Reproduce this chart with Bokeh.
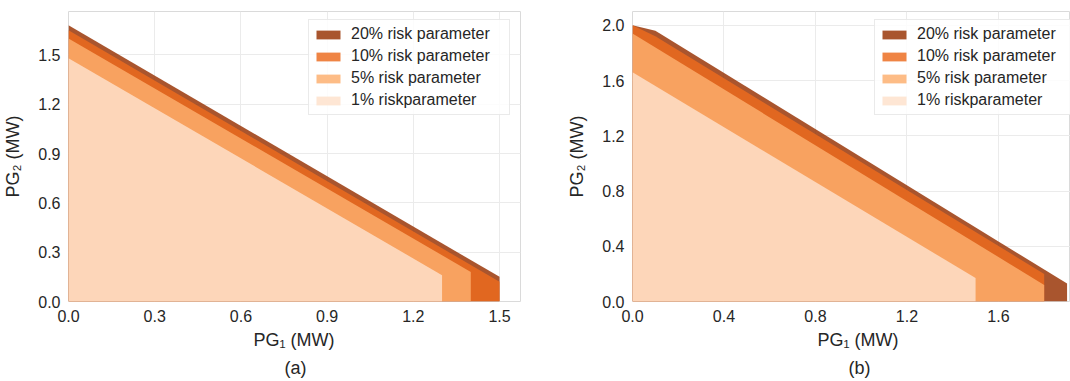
from bokeh.plotting import figure
from bokeh.layouts import row
from bokeh.models import FixedTicker, PrintfTickFormatter, Legend, LegendItem, Title
from bokeh.embed import file_html
from bokeh.resources import INLINE

# ---------------- data ----------------
labels = ["20% risk parameter", "10% risk parameter", "5% risk parameter", "1% riskparameter"]
# base colours, drawn with partial opacity so overlapping regions darken
base_colors = ["#973304", "#ec6b1e", "#fdae6e", "#fee1cb"]
fill_alpha = 0.83

# panel (a): upper boundary of each feasible region (PG1, PG2)
a_x20 = [0.0, 1.5]
a_y20 = [1.68, 0.15]
a_x10 = [0.0, 1.5]
a_y10 = [1.65, 0.12]
a_x5 = [0.0, 1.4]
a_y5 = [1.60, 0.18]
a_x1 = [0.0, 1.3]
a_y1 = [1.48, 0.16]

# panel (b)
b_x20 = [0.0, 0.1, 1.9]
b_y20 = [2.0, 1.96, 0.13]
b_x10 = [0.0, 0.1, 1.8]
b_y10 = [2.0, 1.92, 0.20]
b_x5 = [0.0, 1.8]
b_y5 = [1.94, 0.12]
b_x1 = [0.0, 1.5]
b_y1 = [1.66, 0.17]

a_xticks = [0.0, 0.3, 0.6, 0.9, 1.2, 1.5]
a_yticks = [0.0, 0.3, 0.6, 0.9, 1.2, 1.5]
b_xticks = [0.0, 0.4, 0.8, 1.2, 1.6]
b_yticks = [0.0, 0.4, 0.8, 1.2, 1.6, 2.0]

xlabel = "PG\u2081 (MW)"
ylabel = "PG\u2082 (MW)"

FONT = "Liberation Sans"
H = 381
TOP = 11
BOTTOM = 80
FRAME_H = H - TOP - BOTTOM


def make_panel(width, xr, yr, regions, xticks, yticks, caption, mb_left, mb_right, legend_x):
    p = figure(width=width, height=H, x_range=xr, y_range=yr,
               output_backend="svg", toolbar_location=None,
               min_border_left=mb_left, min_border_right=mb_right,
               min_border_top=TOP, min_border_bottom=BOTTOM)
    p.background_fill_color = "white"
    p.outline_line_color = "#dadada"
    p.xgrid.grid_line_color = "#ebebeb"
    p.ygrid.grid_line_color = "#ebebeb"

    items = []
    for (xs, ys), col, lab in zip(regions, base_colors, labels):
        r = p.varea(x=xs, y1=[0.0] * len(xs), y2=ys, fill_color=col, fill_alpha=fill_alpha)
        items.append(LegendItem(label=lab, renderers=[r]))

    leg_h = 2 * 4 + 4 * 20 + 3 * 2
    leg = Legend(items=items, location=(legend_x, FRAME_H - 10 - leg_h),
                 glyph_width=30, glyph_height=11,
                 label_standoff=8, label_width=154, label_height=20, spacing=2,
                 padding=4, margin=0, border_line_color="#d6d6d6",
                 background_fill_alpha=0.85, label_text_font_size="16px",
                 label_text_font=FONT, label_text_color="#262626")
    p.add_layout(leg, "center")

    p.xaxis.ticker = FixedTicker(ticks=xticks)
    p.yaxis.ticker = FixedTicker(ticks=yticks)
    p.xaxis.formatter = PrintfTickFormatter(format="%.1f")
    p.yaxis.formatter = PrintfTickFormatter(format="%.1f")
    for ax in (p.xaxis, p.yaxis):
        ax.axis_line_color = None
        ax.major_tick_line_color = None
        ax.minor_tick_line_color = None
        ax.major_tick_out = 0
        ax.major_tick_in = 0
        ax.minor_tick_out = 0
        ax.major_label_text_font = FONT
        ax.major_label_text_font_size = "16px"
        ax.major_label_text_color = "#262626"
    p.xaxis.major_label_standoff = 8
    p.yaxis.major_label_standoff = 8
    p.yaxis.axis_label = ylabel
    p.yaxis.axis_label_standoff = 12
    p.yaxis.axis_label_text_font = FONT
    p.yaxis.axis_label_text_font_size = "18px"
    p.yaxis.axis_label_text_font_style = "normal"
    p.yaxis.axis_label_text_color = "#262626"

    t1 = Title(text=xlabel, align="left", offset=185, text_font=FONT, text_font_size="18px",
               text_font_style="normal", text_color="#262626", standoff=7)
    t2 = Title(text=caption, align="left", offset=216, text_font=FONT, text_font_size="18px",
               text_font_style="normal", text_color="#262626", standoff=4)
    p.add_layout(t1, "below")
    p.add_layout(t2, "below")
    return p


pa = make_panel(548, (0, 1.573), (0, 1.764),
                [(a_x20, a_y20), (a_x10, a_y10), (a_x5, a_y5), (a_x1, a_y1)],
                a_xticks, a_yticks, "(a)", 67, 28, 240)
pb = make_panel(522, (0, 1.915), (0, 2.1),
                [(b_x20, b_y20), (b_x10, b_y10), (b_x5, b_y5), (b_x1, b_y1)],
                b_xticks, b_yticks, "(b)", 84, 0, 242)

layout = row(pa, pb)
open("out.html", "w").write(file_html(layout, INLINE))
